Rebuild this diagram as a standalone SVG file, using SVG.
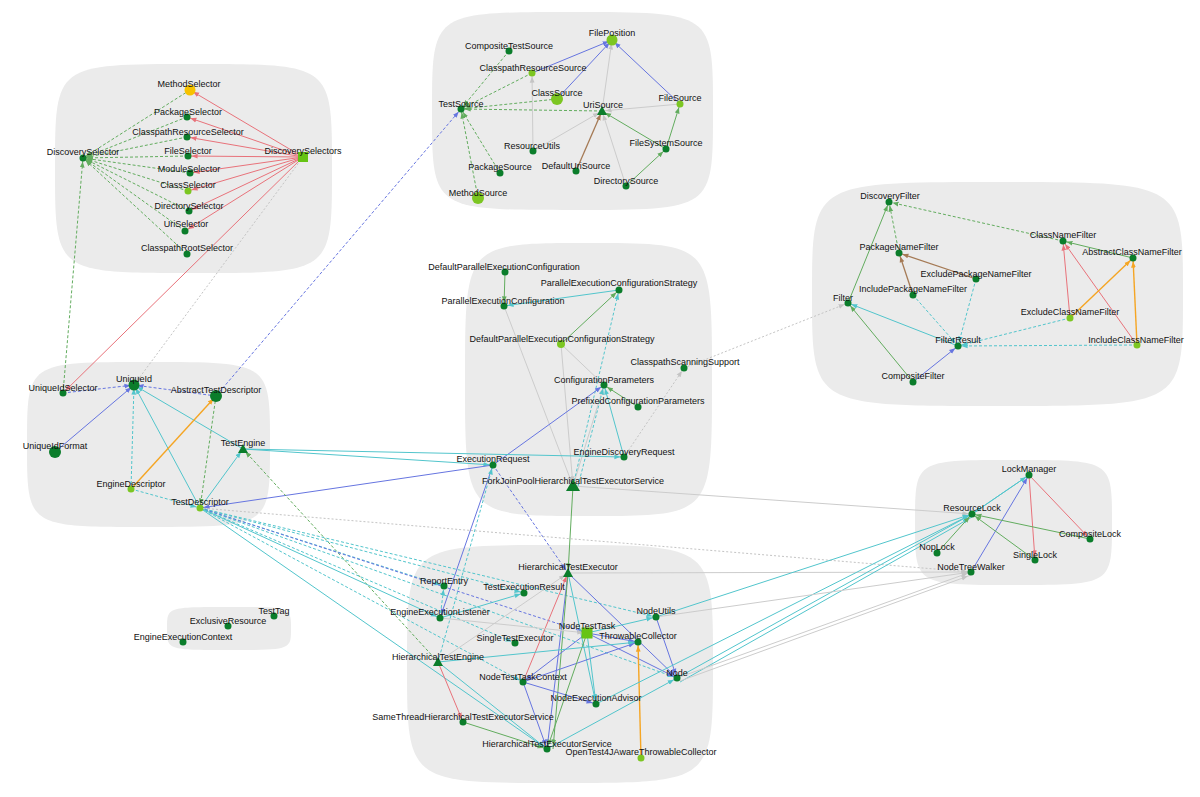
<svg xmlns="http://www.w3.org/2000/svg" width="1200" height="797" viewBox="0 0 1200 797">
<style>
.blob{fill:#ebebeb}
line{fill:none;stroke-width:1}
.r{stroke:#e8727a;marker-end:url(#ar)}
.g{stroke:#62ac5e;marker-end:url(#ag)}
.gd{stroke:#62ac5e;stroke-dasharray:3 2;marker-end:url(#ag)}
.b{stroke:#6675e0;marker-end:url(#ab)}
.bd{stroke:#6675e0;stroke-dasharray:3 2;marker-end:url(#ab)}
.c{stroke:#52c5cc;marker-end:url(#ac)}
.cd{stroke:#52c5cc;stroke-dasharray:3 2;marker-end:url(#ac)}
.o{stroke:#f5a523;stroke-width:1.4;marker-end:url(#ao)}
.gr{stroke:#cccccc;marker-end:url(#agr)}
.grd{stroke:#c4c4c4;stroke-dasharray:2 2;marker-end:url(#agr)}
.br{stroke:#a57a55;stroke-width:1.3;marker-end:url(#abr)}
.n{fill:#0b7d2b}
.lg{fill:#7cc622}
.y{fill:#f7c200}
.sq{fill:#66c414}
text{font-family:"Liberation Sans",Arial,sans-serif;font-size:9px;fill:#111111;text-anchor:middle}
</style>
<defs>
<marker id="ar" viewBox="0 0 10 10" refX="16" refY="5" markerWidth="6" markerHeight="6" markerUnits="userSpaceOnUse" orient="auto"><path d="M0,1 L10,5 L0,9 z" fill="#e8727a"/></marker>
<marker id="ag" viewBox="0 0 10 10" refX="16" refY="5" markerWidth="6" markerHeight="6" markerUnits="userSpaceOnUse" orient="auto"><path d="M0,1 L10,5 L0,9 z" fill="#62ac5e"/></marker>
<marker id="ab" viewBox="0 0 10 10" refX="16" refY="5" markerWidth="6" markerHeight="6" markerUnits="userSpaceOnUse" orient="auto"><path d="M0,1 L10,5 L0,9 z" fill="#6675e0"/></marker>
<marker id="ac" viewBox="0 0 10 10" refX="16" refY="5" markerWidth="6" markerHeight="6" markerUnits="userSpaceOnUse" orient="auto"><path d="M0,1 L10,5 L0,9 z" fill="#52c5cc"/></marker>
<marker id="ao" viewBox="0 0 10 10" refX="16" refY="5" markerWidth="6" markerHeight="6" markerUnits="userSpaceOnUse" orient="auto"><path d="M0,1 L10,5 L0,9 z" fill="#f5a523"/></marker>
<marker id="agr" viewBox="0 0 10 10" refX="16" refY="5" markerWidth="6" markerHeight="6" markerUnits="userSpaceOnUse" orient="auto"><path d="M0,1 L10,5 L0,9 z" fill="#c4c4c4"/></marker>
<marker id="abr" viewBox="0 0 10 10" refX="16" refY="5" markerWidth="6" markerHeight="6" markerUnits="userSpaceOnUse" orient="auto"><path d="M0,1 L10,5 L0,9 z" fill="#a57a55"/></marker>
</defs>
<rect width="1200" height="797" fill="#ffffff"/>
<g id="clusters">
<path class="blob" d="M193.5,64 C332,64 332,64 332,168.5 C332,273 332,273 193.5,273 C55,273 55,273 55,168.5 C55,64 55,64 193.5,64 Z"/>
<path class="blob" d="M572.5,12 C713,12 713,12 713,111 C713,210 713,210 572.5,210 C432,210 432,210 432,111 C432,12 432,12 572.5,12 Z"/>
<path class="blob" d="M997.5,182 C1183,182 1183,182 1183,294 C1183,406 1183,406 997.5,406 C812,406 812,406 812,294 C812,182 812,182 997.5,182 Z"/>
<path class="blob" d="M588.5,243 C712,243 712,243 712,379.5 C712,516 712,516 588.5,516 C465,516 465,516 465,379.5 C465,243 465,243 588.5,243 Z"/>
<path class="blob" d="M148.5,362 C270,362 270,362 270,444.5 C270,527 270,527 148.5,527 C27,527 27,527 27,444.5 C27,362 27,362 148.5,362 Z"/>
<path class="blob" d="M560,545 C713,545 713,545 713,664 C713,783 713,783 560,783 C407,783 407,783 407,664 C407,545 407,545 560,545 Z"/>
<path class="blob" d="M1013.5,460 C1112,460 1112,460 1112,522.5 C1112,585 1112,585 1013.5,585 C915,585 915,585 915,522.5 C915,460 915,460 1013.5,460 Z"/>
<path class="blob" d="M229,607 C291,607 291,607 291,628.5 C291,650 291,650 229,650 C167,650 167,650 167,628.5 C167,607 167,607 229,607 Z"/>
</g>
<g id="connectors">
<line class="r" x1="303" y1="157" x2="190" y2="90"/>
<line class="r" x1="303" y1="157" x2="187" y2="117"/>
<line class="r" x1="303" y1="157" x2="187" y2="137"/>
<line class="r" x1="303" y1="157" x2="188" y2="156"/>
<line class="r" x1="303" y1="157" x2="190" y2="173"/>
<line class="r" x1="303" y1="157" x2="188" y2="191"/>
<line class="r" x1="303" y1="157" x2="189" y2="211"/>
<line class="r" x1="303" y1="157" x2="185" y2="231"/>
<line class="r" x1="303" y1="157" x2="63" y2="393"/>
<line class="gd" x1="190" y1="90" x2="83" y2="158"/>
<line class="gd" x1="187" y1="117" x2="83" y2="158"/>
<line class="gd" x1="187" y1="137" x2="83" y2="158"/>
<line class="gd" x1="188" y1="156" x2="83" y2="158"/>
<line class="gd" x1="190" y1="173" x2="83" y2="158"/>
<line class="gd" x1="188" y1="191" x2="83" y2="158"/>
<line class="gd" x1="189" y1="211" x2="83" y2="158"/>
<line class="gd" x1="185" y1="231" x2="83" y2="158"/>
<line class="gd" x1="187" y1="254" x2="83" y2="158"/>
<line class="gd" x1="63" y1="393" x2="83" y2="158"/>
<line class="grd" x1="303" y1="157" x2="134" y2="385"/>
<line class="bd" x1="216" y1="396" x2="461" y2="109"/>
<line class="gd" x1="509" y1="51" x2="461" y2="109"/>
<line class="gd" x1="532" y1="73" x2="461" y2="109"/>
<line class="gd" x1="557" y1="99" x2="461" y2="109"/>
<line class="gd" x1="602" y1="111" x2="461" y2="109"/>
<line class="gd" x1="500" y1="173" x2="461" y2="109"/>
<line class="gd" x1="478" y1="198" x2="461" y2="109"/>
<line class="b" x1="532" y1="73" x2="612" y2="40"/>
<line class="b" x1="557" y1="99" x2="612" y2="40"/>
<line class="b" x1="680" y1="104" x2="612" y2="40"/>
<line class="gr" x1="602" y1="111" x2="612" y2="40"/>
<line class="gr" x1="680" y1="104" x2="602" y2="111"/>
<line class="gr" x1="533" y1="151" x2="532" y2="73"/>
<line class="gr" x1="533" y1="151" x2="602" y2="111"/>
<line class="gr" x1="626" y1="186" x2="602" y2="111"/>
<line class="br" x1="576" y1="171" x2="602" y2="111"/>
<line class="g" x1="626" y1="186" x2="666" y2="149"/>
<line class="g" x1="666" y1="149" x2="602" y2="111"/>
<line class="g" x1="666" y1="149" x2="680" y2="104"/>
<line class="gd" x1="1063" y1="241" x2="889" y2="202"/>
<line class="gd" x1="899" y1="253" x2="889" y2="202"/>
<line class="g" x1="848" y1="303" x2="889" y2="202"/>
<line class="br" x1="976" y1="279" x2="899" y2="253"/>
<line class="br" x1="913" y1="295" x2="899" y2="253"/>
<line class="cd" x1="913" y1="295" x2="958" y2="346"/>
<line class="cd" x1="976" y1="279" x2="958" y2="346"/>
<line class="cd" x1="1070" y1="318" x2="958" y2="346"/>
<line class="cd" x1="1137" y1="345" x2="958" y2="346"/>
<line class="c" x1="958" y1="346" x2="848" y2="303"/>
<line class="g" x1="913" y1="382" x2="848" y2="303"/>
<line class="b" x1="913" y1="382" x2="958" y2="346"/>
<line class="r" x1="1070" y1="318" x2="1063" y2="241"/>
<line class="r" x1="1137" y1="345" x2="1063" y2="241"/>
<line class="o" x1="1070" y1="318" x2="1133" y2="258"/>
<line class="o" x1="1137" y1="345" x2="1133" y2="258"/>
<line class="g" x1="1133" y1="258" x2="1063" y2="241"/>
<line class="grd" x1="684" y1="368" x2="848" y2="303"/>
<line class="g" x1="505" y1="272" x2="504" y2="306"/>
<line class="c" x1="619" y1="290" x2="504" y2="306"/>
<line class="g" x1="561" y1="344" x2="619" y2="290"/>
<line class="gr" x1="561" y1="344" x2="604" y2="385"/>
<line class="gr" x1="561" y1="344" x2="573" y2="486"/>
<line class="gr" x1="504" y1="306" x2="573" y2="486"/>
<line class="gr" x1="573" y1="486" x2="604" y2="385"/>
<line class="cd" x1="573" y1="486" x2="619" y2="290"/>
<line class="cd" x1="578" y1="486" x2="604" y2="385"/>
<line class="g" x1="638" y1="407" x2="604" y2="385"/>
<line class="c" x1="624" y1="457" x2="604" y2="385"/>
<line class="b" x1="493" y1="465" x2="604" y2="385"/>
<line class="grd" x1="624" y1="457" x2="684" y2="368"/>
<line class="c" x1="243" y1="449" x2="624" y2="457"/>
<line class="c" x1="243" y1="449" x2="493" y2="465"/>
<line class="b" x1="493" y1="465" x2="200" y2="508"/>
<line class="gr" x1="573" y1="486" x2="972" y2="514"/>
<line class="g" x1="573" y1="486" x2="568" y2="573"/>
<line class="b" x1="493" y1="465" x2="440" y2="618"/>
<line class="bd" x1="493" y1="465" x2="568" y2="573"/>
<line class="cd" x1="438" y1="662" x2="493" y2="465"/>
<line class="bd" x1="63" y1="393" x2="134" y2="385"/>
<line class="bd" x1="216" y1="396" x2="134" y2="385"/>
<line class="b" x1="55" y1="452" x2="134" y2="385"/>
<line class="cd" x1="131" y1="489" x2="134" y2="385"/>
<line class="c" x1="200" y1="508" x2="134" y2="385"/>
<line class="c" x1="243" y1="449" x2="134" y2="385"/>
<line class="o" x1="131" y1="489" x2="216" y2="396"/>
<line class="gd" x1="216" y1="396" x2="200" y2="508"/>
<line class="cd" x1="131" y1="489" x2="200" y2="508"/>
<line class="c" x1="200" y1="508" x2="243" y2="449"/>
<line class="gd" x1="438" y1="662" x2="243" y2="449"/>
<line class="grd" x1="200" y1="508" x2="971" y2="572"/>
<line class="cd" x1="200" y1="508" x2="656" y2="617"/>
<line class="cd" x1="200" y1="508" x2="677" y2="678"/>
<line class="cd" x1="200" y1="508" x2="524" y2="593"/>
<line class="cd" x1="200" y1="508" x2="444" y2="586"/>
<line class="cd" x1="200" y1="508" x2="515" y2="643"/>
<line class="cd" x1="200" y1="508" x2="523" y2="682"/>
<line class="bd" x1="200" y1="508" x2="587" y2="633"/>
<line class="c" x1="200" y1="508" x2="440" y2="618"/>
<line class="c" x1="200" y1="508" x2="547" y2="749"/>
<line class="b" x1="568" y1="573" x2="677" y2="678"/>
<line class="b" x1="568" y1="573" x2="547" y2="749"/>
<line class="r" x1="523" y1="682" x2="568" y2="573"/>
<line class="c" x1="568" y1="573" x2="596" y2="704"/>
<line class="g" x1="568" y1="573" x2="553" y2="749"/>
<line class="gr" x1="568" y1="573" x2="971" y2="572"/>
<line class="gr" x1="438" y1="662" x2="568" y2="573"/>
<line class="b" x1="587" y1="633" x2="638" y2="642"/>
<line class="b" x1="587" y1="633" x2="677" y2="678"/>
<line class="b" x1="587" y1="633" x2="523" y2="682"/>
<line class="b" x1="523" y1="682" x2="638" y2="642"/>
<line class="b" x1="523" y1="682" x2="596" y2="704"/>
<line class="b" x1="523" y1="682" x2="547" y2="749"/>
<line class="g" x1="587" y1="633" x2="547" y2="749"/>
<line class="c" x1="587" y1="633" x2="596" y2="704"/>
<line class="c" x1="587" y1="633" x2="656" y2="617"/>
<line class="b" x1="656" y1="617" x2="677" y2="678"/>
<line class="o" x1="641" y1="758" x2="638" y2="642"/>
<line class="c" x1="440" y1="618" x2="524" y2="593"/>
<line class="cd" x1="440" y1="618" x2="444" y2="586"/>
<line class="gr" x1="440" y1="618" x2="587" y2="633"/>
<line class="r" x1="438" y1="662" x2="463" y2="722"/>
<line class="g" x1="463" y1="722" x2="547" y2="749"/>
<line class="c" x1="438" y1="662" x2="547" y2="749"/>
<line class="c" x1="438" y1="662" x2="638" y2="642"/>
<line class="c" x1="677" y1="678" x2="972" y2="514"/>
<line class="c" x1="680" y1="682" x2="972" y2="517"/>
<line class="c" x1="596" y1="704" x2="972" y2="514"/>
<line class="c" x1="656" y1="617" x2="972" y2="514"/>
<line class="c" x1="547" y1="749" x2="677" y2="678"/>
<line class="gr" x1="677" y1="678" x2="971" y2="572"/>
<line class="gr" x1="680" y1="681" x2="971" y2="575"/>
<line class="gr" x1="656" y1="617" x2="971" y2="572"/>
<line class="r" x1="1029" y1="475" x2="1090" y2="539"/>
<line class="r" x1="1029" y1="475" x2="1035" y2="560"/>
<line class="b" x1="971" y1="572" x2="1029" y2="475"/>
<line class="c" x1="972" y1="514" x2="1029" y2="475"/>
<line class="c" x1="1029" y1="475" x2="972" y2="514"/>
<line class="g" x1="1090" y1="539" x2="972" y2="514"/>
<line class="g" x1="1035" y1="560" x2="972" y2="514"/>
<line class="g" x1="937" y1="553" x2="972" y2="514"/>
</g>
<g id="n-MethodSelector"><circle class="y" cx="190" cy="90" r="5.5"/><text x="189" y="87">MethodSelector</text></g>
<g id="n-PackageSelector"><circle class="n" cx="187" cy="117" r="3.5"/><text x="188" y="115">PackageSelector</text></g>
<g id="n-ClasspathResourceSelector"><circle class="n" cx="187" cy="137" r="3.5"/><text x="188" y="135">ClasspathResourceSelector</text></g>
<g id="n-FileSelector"><circle class="n" cx="188" cy="156" r="3.5"/><text x="188" y="154">FileSelector</text></g>
<g id="n-ModuleSelector"><circle class="n" cx="190" cy="173" r="3.5"/><text x="189" y="172">ModuleSelector</text></g>
<g id="n-ClassSelector"><circle class="lg" cx="188" cy="191" r="3.5"/><text x="188" y="188">ClassSelector</text></g>
<g id="n-DirectorySelector"><circle class="n" cx="189" cy="211" r="3.5"/><text x="189" y="209">DirectorySelector</text></g>
<g id="n-UriSelector"><circle class="n" cx="185" cy="231" r="3.5"/><text x="186" y="227">UriSelector</text></g>
<g id="n-ClasspathRootSelector"><circle class="n" cx="187" cy="254" r="3.5"/><text x="187" y="251">ClasspathRootSelector</text></g>
<g id="n-DiscoverySelector"><circle class="n" cx="83" cy="158" r="3.5"/><text x="83" y="155">DiscoverySelector</text></g>
<g id="n-DiscoverySelectors"><rect class="sq" x="298" y="152" width="10" height="10"/><text x="303" y="154">DiscoverySelectors</text></g>
<g id="n-FilePosition"><circle class="lg" cx="612" cy="40" r="5.5"/><text x="612" y="36">FilePosition</text></g>
<g id="n-CompositeTestSource"><circle class="n" cx="509" cy="51" r="3.5"/><text x="509" y="49">CompositeTestSource</text></g>
<g id="n-ClasspathResourceSource"><circle class="lg" cx="532" cy="73" r="3.5"/><text x="533" y="71">ClasspathResourceSource</text></g>
<g id="n-ClassSource"><circle class="lg" cx="557" cy="99" r="6"/><text x="557" y="96">ClassSource</text></g>
<g id="n-TestSource"><circle class="n" cx="461" cy="109" r="3.5"/><text x="461" y="107">TestSource</text></g>
<g id="n-UriSource"><polygon class="n" points="602,106 597,115 607,115"/><text x="603" y="108">UriSource</text></g>
<g id="n-FileSource"><circle class="lg" cx="680" cy="104" r="3.5"/><text x="680" y="101">FileSource</text></g>
<g id="n-ResourceUtils"><circle class="n" cx="533" cy="151" r="3.5"/><text x="532" y="149">ResourceUtils</text></g>
<g id="n-FileSystemSource"><circle class="n" cx="666" cy="149" r="3.5"/><text x="666" y="146">FileSystemSource</text></g>
<g id="n-PackageSource"><circle class="n" cx="500" cy="173" r="3.5"/><text x="500" y="170">PackageSource</text></g>
<g id="n-DefaultUriSource"><circle class="n" cx="576" cy="171" r="3.5"/><text x="576" y="169">DefaultUriSource</text></g>
<g id="n-DirectorySource"><circle class="n" cx="626" cy="186" r="3.5"/><text x="626" y="184">DirectorySource</text></g>
<g id="n-MethodSource"><circle class="lg" cx="478" cy="198" r="6"/><text x="478" y="196">MethodSource</text></g>
<g id="n-DiscoveryFilter"><circle class="n" cx="889" cy="202" r="3.5"/><text x="890" y="199">DiscoveryFilter</text></g>
<g id="n-ClassNameFilter"><circle class="n" cx="1063" cy="241" r="3.5"/><text x="1063" y="238">ClassNameFilter</text></g>
<g id="n-AbstractClassNameFilter"><circle class="n" cx="1133" cy="258" r="3.5"/><text x="1132" y="255">AbstractClassNameFilter</text></g>
<g id="n-PackageNameFilter"><circle class="n" cx="899" cy="253" r="3.5"/><text x="899" y="250">PackageNameFilter</text></g>
<g id="n-ExcludePackageNameFilter"><circle class="n" cx="976" cy="279" r="3.5"/><text x="976" y="277">ExcludePackageNameFilter</text></g>
<g id="n-IncludePackageNameFilter"><circle class="n" cx="913" cy="295" r="3.5"/><text x="913" y="292">IncludePackageNameFilter</text></g>
<g id="n-Filter"><circle class="n" cx="848" cy="303" r="3.5"/><text x="843" y="301">Filter</text></g>
<g id="n-ExcludeClassNameFilter"><circle class="lg" cx="1070" cy="318" r="3.5"/><text x="1070" y="315">ExcludeClassNameFilter</text></g>
<g id="n-FilterResult"><circle class="n" cx="958" cy="346" r="3.5"/><text x="958" y="343">FilterResult</text></g>
<g id="n-IncludeClassNameFilter"><circle class="lg" cx="1137" cy="345" r="3.5"/><text x="1136" y="343">IncludeClassNameFilter</text></g>
<g id="n-CompositeFilter"><circle class="n" cx="913" cy="382" r="3.5"/><text x="913" y="379">CompositeFilter</text></g>
<g id="n-DefaultParallelExecutionConfiguration"><circle class="n" cx="505" cy="272" r="3.5"/><text x="504" y="270">DefaultParallelExecutionConfiguration</text></g>
<g id="n-ParallelExecutionConfigurationStrategy"><circle class="n" cx="619" cy="290" r="3.5"/><text x="619" y="286">ParallelExecutionConfigurationStrategy</text></g>
<g id="n-ParallelExecutionConfiguration"><circle class="n" cx="504" cy="306" r="3.5"/><text x="503" y="304">ParallelExecutionConfiguration</text></g>
<g id="n-DefaultParallelExecutionConfigurationStrategy"><circle class="lg" cx="561" cy="344" r="4"/><text x="562" y="342">DefaultParallelExecutionConfigurationStrategy</text></g>
<g id="n-ClasspathScanningSupport"><circle class="n" cx="684" cy="368" r="3.5"/><text x="685" y="365">ClasspathScanningSupport</text></g>
<g id="n-ConfigurationParameters"><circle class="n" cx="604" cy="385" r="3.5"/><text x="604" y="383">ConfigurationParameters</text></g>
<g id="n-PrefixedConfigurationParameters"><circle class="n" cx="638" cy="407" r="3.5"/><text x="638" y="404">PrefixedConfigurationParameters</text></g>
<g id="n-EngineDiscoveryRequest"><circle class="n" cx="624" cy="457" r="3.5"/><text x="624" y="455">EngineDiscoveryRequest</text></g>
<g id="n-ExecutionRequest"><circle class="n" cx="493" cy="465" r="3.5"/><text x="493" y="462">ExecutionRequest</text></g>
<g id="n-ForkJoinPoolHierarchicalTestExecutorService"><polygon class="n" points="573,479 566,491 580,491"/><text x="573" y="484">ForkJoinPoolHierarchicalTestExecutorService</text></g>
<g id="n-UniqueIdSelector"><circle class="n" cx="63" cy="393" r="3.5"/><text x="63" y="391">UniqueIdSelector</text></g>
<g id="n-UniqueId"><circle class="n" cx="134" cy="385" r="5.5"/><text x="134" y="382">UniqueId</text></g>
<g id="n-AbstractTestDescriptor"><circle class="n" cx="216" cy="396" r="6"/><text x="216" y="393">AbstractTestDescriptor</text></g>
<g id="n-UniqueIdFormat"><circle class="n" cx="55" cy="452" r="6"/><text x="55" y="449">UniqueIdFormat</text></g>
<g id="n-TestEngine"><polygon class="n" points="243,444 238,453 248,453"/><text x="243" y="446">TestEngine</text></g>
<g id="n-EngineDescriptor"><circle class="lg" cx="131" cy="489" r="3.5"/><text x="131" y="487">EngineDescriptor</text></g>
<g id="n-TestDescriptor"><circle class="lg" cx="200" cy="508" r="3.5"/><text x="200" y="505">TestDescriptor</text></g>
<g id="n-HierarchicalTestExecutor"><polygon class="n" points="568,568 563,577 573,577"/><text x="568" y="570">HierarchicalTestExecutor</text></g>
<g id="n-ReportEntry"><circle class="n" cx="444" cy="586" r="3.5"/><text x="444" y="584">ReportEntry</text></g>
<g id="n-TestExecutionResult"><circle class="n" cx="524" cy="593" r="3.5"/><text x="524" y="590">TestExecutionResult</text></g>
<g id="n-EngineExecutionListener"><circle class="n" cx="440" cy="618" r="3.5"/><text x="440" y="615">EngineExecutionListener</text></g>
<g id="n-NodeUtils"><circle class="n" cx="656" cy="617" r="3.5"/><text x="656" y="614">NodeUtils</text></g>
<g id="n-NodeTestTask"><rect class="sq" x="581.5" y="627.5" width="11" height="11"/><text x="587" y="629">NodeTestTask</text></g>
<g id="n-ThrowableCollector"><circle class="n" cx="638" cy="642" r="3.5"/><text x="638" y="639">ThrowableCollector</text></g>
<g id="n-SingleTestExecutor"><circle class="n" cx="515" cy="643" r="3.5"/><text x="515" y="641">SingleTestExecutor</text></g>
<g id="n-HierarchicalTestEngine"><polygon class="n" points="438,657 433,666 443,666"/><text x="438" y="660">HierarchicalTestEngine</text></g>
<g id="n-NodeTestTaskContext"><circle class="n" cx="523" cy="682" r="3.5"/><text x="523" y="680">NodeTestTaskContext</text></g>
<g id="n-Node"><circle class="n" cx="677" cy="678" r="3.5"/><text x="677" y="676">Node</text></g>
<g id="n-NodeExecutionAdvisor"><circle class="n" cx="596" cy="704" r="3.5"/><text x="596" y="701">NodeExecutionAdvisor</text></g>
<g id="n-SameThreadHierarchicalTestExecutorService"><circle class="n" cx="463" cy="722" r="3.5"/><text x="463" y="720">SameThreadHierarchicalTestExecutorService</text></g>
<g id="n-HierarchicalTestExecutorService"><circle class="n" cx="547" cy="749" r="3.5"/><text x="547" y="747">HierarchicalTestExecutorService</text></g>
<g id="n-OpenTest4JAwareThrowableCollector"><circle class="lg" cx="641" cy="758" r="3.5"/><text x="641" y="755">OpenTest4JAwareThrowableCollector</text></g>
<g id="n-LockManager"><circle class="n" cx="1029" cy="475" r="3.5"/><text x="1029" y="472">LockManager</text></g>
<g id="n-ResourceLock"><circle class="n" cx="972" cy="514" r="3.5"/><text x="972" y="511">ResourceLock</text></g>
<g id="n-CompositeLock"><circle class="n" cx="1090" cy="539" r="3.5"/><text x="1090" y="537">CompositeLock</text></g>
<g id="n-NopLock"><circle class="n" cx="937" cy="553" r="3.5"/><text x="937" y="550">NopLock</text></g>
<g id="n-SingleLock"><circle class="n" cx="1035" cy="560" r="3.5"/><text x="1035" y="558">SingleLock</text></g>
<g id="n-NodeTreeWalker"><circle class="n" cx="971" cy="572" r="3.5"/><text x="971" y="570">NodeTreeWalker</text></g>
<g id="n-TestTag"><circle class="n" cx="274" cy="616" r="3.5"/><text x="274" y="614">TestTag</text></g>
<g id="n-ExclusiveResource"><circle class="n" cx="228" cy="626" r="3.5"/><text x="228" y="624">ExclusiveResource</text></g>
<g id="n-EngineExecutionContext"><circle class="n" cx="183" cy="642" r="3.5"/><text x="183" y="640">EngineExecutionContext</text></g>
</svg>
